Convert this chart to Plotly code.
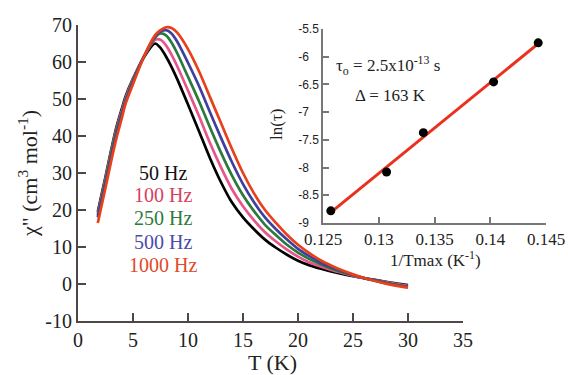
import plotly.graph_objects as go

# ---------------- data ----------------
T = [1.8, 2.5, 3, 3.5, 4, 4.3, 5, 6, 7, 7.5, 8, 8.5, 9, 10, 11, 12, 13, 14, 15,
     16, 17, 18, 19, 20, 21, 22, 23, 24, 25, 26, 27, 28, 29, 30]

chi_50 = [19.5, 29, 36, 42.5, 47.5, 50.5, 55.5, 61.3, 65.0, 63.8, 61.5, 58.7, 55.5,
          48.5, 41.3, 34.0, 27.5, 22.0, 18.0, 14.8, 12.0, 9.8, 7.9, 6.3, 5.1, 4.2,
          3.4, 2.7, 2.1, 1.6, 1.1, 0.6, 0.1, -0.3]
chi_100 = [19.0, 28.5, 35.5, 42, 47, 50, 55.3, 61.5, 66.0, 66.0, 64.5, 62.0, 59.0,
           52.3, 45.4, 38.1, 31.5, 25.6, 21.0, 17.2, 14.0, 11.5, 9.3, 7.4, 5.9, 4.8,
           3.8, 3.0, 2.2, 1.6, 1.0, 0.5, 0.0, -0.5]
chi_250 = [18.5, 28, 35, 41.5, 46.5, 49.5, 55, 61.5, 66.6, 67.7, 67.2, 65.3, 62.5,
           56.0, 49.4, 42.3, 35.5, 29.3, 24.0, 19.7, 16.0, 13.2, 10.6, 8.5, 6.8, 5.4,
           4.2, 3.2, 2.4, 1.6, 1.0, 0.4, -0.2, -0.7]
chi_500 = [18.0, 27, 34, 40.5, 46, 49, 54.6, 61.5, 66.9, 68.2, 68.6, 67.7, 65.6,
           59.8, 53.5, 46.4, 39.5, 32.9, 27.0, 22.1, 18.0, 14.8, 12.0, 9.5, 7.6, 5.9,
           4.6, 3.5, 2.5, 1.6, 0.9, 0.2, -0.4, -0.8]
chi_1000 = [16.5, 26, 33, 39.5, 45, 48.5, 54, 61.5, 67.2, 68.6, 69.4, 69.2, 68.0,
            63.5, 57.5, 50.5, 43.5, 36.5, 30.0, 24.5, 20.0, 16.5, 13.3, 10.6, 8.4, 6.5,
            5.0, 3.7, 2.6, 1.6, 0.8, 0.1, -0.5, -1.0]

freq_labels = ["50 Hz", "100 Hz", "250 Hz", "500 Hz", "1000 Hz"]
line_colors = ["#000000", "#e8558c", "#2a7a3a", "#3f3f9f", "#e8401a"]
text_colors = ["#111111", "#d8405e", "#2e7a3c", "#4b4ba8", "#e04a2a"]

inv_Tmax = [0.1257, 0.1307, 0.1340, 0.1403, 0.1443]
ln_tau = [-8.78, -8.08, -7.37, -6.455, -5.75]

main_x_ticks = [0, 5, 10, 15, 20, 25, 30, 35]
main_y_ticks = [-10, 0, 10, 20, 30, 40, 50, 60, 70]
main_y_ticklabels = ["-10", "0", "10", "20", "30", "40", "50", "60", "70"]
inset_x_ticks = [0.125, 0.13, 0.135, 0.14, 0.145]
inset_x_ticklabels = ["0.125", "0.13", "0.135", "0.14", "0.145"]
inset_y_ticks = [-9, -8.5, -8, -7.5, -7, -6.5, -6, -5.5]
inset_y_ticklabels = ["-9", "-8.5", "-8", "-7.5", "-7", "-6.5", "-6", "-5.5"]

# ---------------- figure ----------------
W, H = 568, 375
fig = go.Figure()

series = [chi_50, chi_100, chi_250, chi_500, chi_1000]
for ys, c, name in zip(series, line_colors, freq_labels):
    fig.add_trace(go.Scatter(x=T, y=ys, mode="lines",
                             line=dict(color=c, width=2.7, shape="spline", smoothing=0.8),
                             name=name, showlegend=False, xaxis="x", yaxis="y"))

# linear (Arrhenius) fit for inset
n = len(inv_Tmax)
mx = sum(inv_Tmax) / n
my = sum(ln_tau) / n
slope = sum((a - mx) * (b - my) for a, b in zip(inv_Tmax, ln_tau)) / sum((a - mx) ** 2 for a in inv_Tmax)
icpt = my - slope * mx
fx = [min(inv_Tmax), max(inv_Tmax) + 0.0002]
fy = [icpt + slope * v for v in fx]
fig.add_trace(go.Scatter(x=fx, y=fy, mode="lines", line=dict(color="#e8321e", width=3),
                         showlegend=False, xaxis="x2", yaxis="y2"))
fig.add_trace(go.Scatter(x=inv_Tmax, y=ln_tau, mode="markers", marker=dict(color="black", size=9),
                         showlegend=False, xaxis="x2", yaxis="y2"))

def px_x(p):
    return p / W

def px_y(p):
    return 1 - p / H

serif = "Liberation Serif"
axcol = "#4f4747"
# pad integer labels so the inset labels line up like the original
pad = "\u2008\u2007"
inset_y_text = [t if "." in t else t + pad for t in inset_y_ticklabels]

fig.update_layout(
    width=W, height=H,
    margin=dict(l=0, r=0, t=0, b=0),
    paper_bgcolor="white", plot_bgcolor="rgba(0,0,0,0)",
    xaxis=dict(domain=[px_x(78), px_x(463)], range=[0, 35], tickvals=main_x_ticks,
               ticks="inside", ticklen=8, tickwidth=2, tickcolor=axcol,
               showline=True, linecolor=axcol, linewidth=2, showgrid=False, zeroline=False,
               tickfont=dict(family=serif, size=20, color="#222"), automargin=False,
               anchor="y"),
    yaxis=dict(domain=[px_y(321), px_y(25)], range=[-10, 70], tickvals=main_y_ticks,
               ticktext=main_y_ticklabels,
               ticks="inside", ticklen=8, tickwidth=2, tickcolor=axcol,
               showline=True, linecolor=axcol, linewidth=2, showgrid=False, zeroline=False,
               tickfont=dict(family=serif, size=20, color="#222"), automargin=False,
               anchor="x"),
    xaxis2=dict(domain=[px_x(323), px_x(546)], range=[0.125, 0.145], tickvals=inset_x_ticks,
                ticktext=inset_x_ticklabels,
                ticks="inside", ticklen=6, tickwidth=1.5, tickcolor="#777",
                showline=True, linecolor="#777", linewidth=1.5, showgrid=False, zeroline=False,
                tickfont=dict(family=serif, size=17, color="#222"), automargin=False,
                anchor="y2"),
    yaxis2=dict(domain=[px_y(223), px_y(29)], range=[-9, -5.5], tickvals=inset_y_ticks,
                ticktext=inset_y_text,
                ticks="inside", ticklen=6, tickwidth=1.5, tickcolor="#777",
                showline=True, linecolor="#777", linewidth=1.5, showgrid=False, zeroline=False,
                tickfont=dict(family="Liberation Sans", size=12, color="#222"), automargin=False,
                anchor="x2"),
)

ann = []
label_y = [173, 195, 218, 242, 265]
for lab, c, yp in zip(freq_labels, text_colors, label_y):
    ann.append(dict(x=px_x(163), y=px_y(yp), xref="paper", yref="paper", text=lab, showarrow=False,
                    font=dict(family=serif, size=20, color=c), xanchor="center", yanchor="middle"))
ann.append(dict(x=px_x(388), y=px_y(65), xref="paper", yref="paper",
                text="τ<sub>o</sub> = 2.5x10<sup>-13</sup> s", showarrow=False,
                font=dict(family=serif, size=17, color="#222"), xanchor="center", yanchor="middle"))
ann.append(dict(x=px_x(390), y=px_y(95), xref="paper", yref="paper",
                text="Δ = 163 K", showarrow=False,
                font=dict(family=serif, size=17, color="#222"), xanchor="center", yanchor="middle"))
# axis titles
ann.append(dict(x=px_x(272), y=px_y(362), xref="paper", yref="paper", text="T (K)", showarrow=False,
                font=dict(family=serif, size=22, color="#222"), xanchor="center", yanchor="middle"))
ann.append(dict(x=px_x(28), y=px_y(174), xref="paper", yref="paper",
                text="χ\" (cm<sup>3</sup> mol<sup>-1</sup>)", showarrow=False, textangle=-90,
                font=dict(family=serif, size=22, color="#222"), xanchor="center", yanchor="middle"))
ann.append(dict(x=px_x(435), y=px_y(259), xref="paper", yref="paper",
                text="1/Tmax (K<sup>-1</sup>)", showarrow=False,
                font=dict(family=serif, size=17, color="#222"), xanchor="center", yanchor="middle"))
ann.append(dict(x=px_x(277), y=px_y(125), xref="paper", yref="paper",
                text="ln(τ)", showarrow=False, textangle=-90,
                font=dict(family=serif, size=17, color="#222"), xanchor="center", yanchor="middle"))
fig.update_layout(annotations=ann)

fig.write_html("out.html")
